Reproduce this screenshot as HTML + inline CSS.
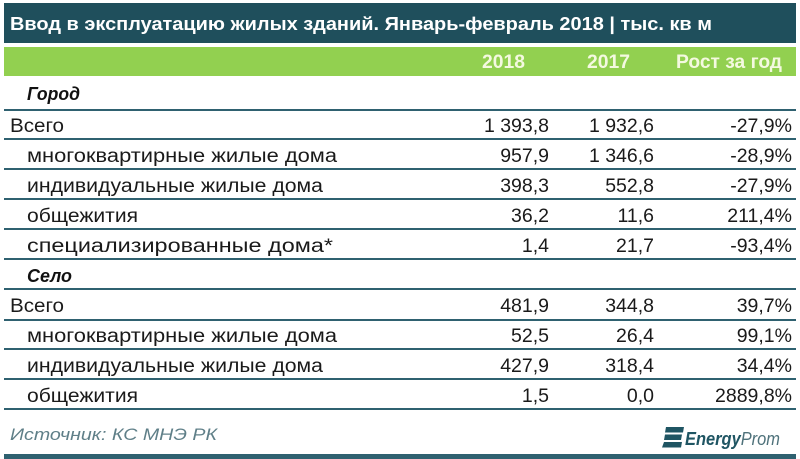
<!DOCTYPE html>
<html>
<head>
<meta charset="utf-8">
<style>
  html,body{margin:0;padding:0;background:#ffffff;}
  svg{display:block;}
  text{font-family:"Liberation Sans","Noto Sans CJK SC",sans-serif;}
</style>
</head>
<body>
<svg width="800" height="459" viewBox="0 0 800 459" xmlns="http://www.w3.org/2000/svg">
  <rect x="0" y="0" width="800" height="459" fill="#ffffff"/>
  <!-- title band -->
  <rect x="4" y="3" width="792" height="40" fill="#1f4f5c"/>
  <text x="10" y="30" font-size="18" font-weight="bold" fill="#ffffff" textLength="702" lengthAdjust="spacingAndGlyphs">Ввод в эксплуатацию жилых зданий. Январь-февраль 2018 | тыс. кв м</text>
  <!-- green header -->
  <rect x="4" y="47" width="792" height="29" fill="#92d050"/>
  <g font-size="19" font-weight="bold" fill="#f4f9e0">
    <text x="482" y="68" textLength="43" lengthAdjust="spacingAndGlyphs">2018</text>
    <text x="587" y="68" textLength="43" lengthAdjust="spacingAndGlyphs">2017</text>
    <text x="676" y="68" textLength="106" lengthAdjust="spacingAndGlyphs">Рост за год</text>
  </g>
  <!-- row lines -->
  <g fill="#2f6170">
    <rect x="4" y="109" width="792" height="2"/>
    <rect x="4" y="138" width="792" height="2"/>
    <rect x="4" y="168" width="792" height="2"/>
    <rect x="4" y="198" width="792" height="2"/>
    <rect x="4" y="228" width="792" height="2"/>
    <rect x="4" y="258" width="792" height="2"/>
    <rect x="4" y="288" width="792" height="2"/>
    <rect x="4" y="319" width="792" height="2"/>
    <rect x="4" y="348" width="792" height="2"/>
    <rect x="4" y="378" width="792" height="2"/>
    <rect x="4" y="408" width="792" height="2"/>
    <rect x="4" y="454" width="792" height="5"/>
  </g>
  <!-- section headers -->
  <g font-size="18" font-weight="bold" font-style="italic" fill="#111111">
    <text x="27" y="100" textLength="53" lengthAdjust="spacingAndGlyphs">Город</text>
    <text x="27" y="282" textLength="45" lengthAdjust="spacingAndGlyphs">Село</text>
  </g>
  <!-- labels -->
  <g font-size="19" fill="#1a1a1a">
    <text x="10" y="132" textLength="54" lengthAdjust="spacingAndGlyphs">Всего</text>
    <text x="27" y="162" textLength="310" lengthAdjust="spacingAndGlyphs">многоквартирные жилые дома</text>
    <text x="27" y="192" textLength="296" lengthAdjust="spacingAndGlyphs">индивидуальные жилые дома</text>
    <text x="27" y="222" textLength="111" lengthAdjust="spacingAndGlyphs">общежития</text>
    <text x="27" y="252" textLength="306" lengthAdjust="spacingAndGlyphs">специализированные дома*</text>
    <text x="10" y="312" textLength="54" lengthAdjust="spacingAndGlyphs">Всего</text>
    <text x="27" y="342" textLength="310" lengthAdjust="spacingAndGlyphs">многоквартирные жилые дома</text>
    <text x="27" y="372" textLength="296" lengthAdjust="spacingAndGlyphs">индивидуальные жилые дома</text>
    <text x="27" y="402" textLength="111" lengthAdjust="spacingAndGlyphs">общежития</text>
  </g>
  <!-- numbers -->
  <g font-size="19.5" fill="#1a1a1a" text-anchor="end">
    <text x="549" y="132">1 393,8</text>
    <text x="654" y="132">1 932,6</text>
    <text x="792" y="132">-27,9%</text>

    <text x="549" y="162">957,9</text>
    <text x="654" y="162">1 346,6</text>
    <text x="792" y="162">-28,9%</text>

    <text x="549" y="192">398,3</text>
    <text x="654" y="192">552,8</text>
    <text x="792" y="192">-27,9%</text>

    <text x="549" y="222">36,2</text>
    <text x="654" y="222">11,6</text>
    <text x="792" y="222">211,4%</text>

    <text x="549" y="252">1,4</text>
    <text x="654" y="252">21,7</text>
    <text x="792" y="252">-93,4%</text>

    <text x="549" y="312">481,9</text>
    <text x="654" y="312">344,8</text>
    <text x="792" y="312">39,7%</text>

    <text x="549" y="342">52,5</text>
    <text x="654" y="342">26,4</text>
    <text x="792" y="342">99,1%</text>

    <text x="549" y="372">427,9</text>
    <text x="654" y="372">318,4</text>
    <text x="792" y="372">34,4%</text>

    <text x="549" y="402">1,5</text>
    <text x="654" y="402">0,0</text>
    <text x="792" y="402">2889,8%</text>
  </g>
  <!-- footer -->
  <text x="10" y="440" font-size="17" font-style="italic" fill="#5f7f88" textLength="207" lengthAdjust="spacingAndGlyphs">Источник: КС МНЭ РК</text>
  <!-- logo -->
  <g fill="#1f5563">
    <polygon points="666,427 684,427 683,432.5 665,432.5"/>
    <polygon points="665,434.5 682,434.5 681,440 664,440"/>
    <polygon points="664,442 682,442 681,447.5 662,447.5"/>
  </g>
  <text x="685" y="445" font-size="18" font-style="italic" textLength="95" lengthAdjust="spacingAndGlyphs"><tspan font-weight="bold" fill="#1f5563">Energy</tspan><tspan fill="#4f727b">Prom</tspan></text>
</svg>
</body>
</html>
